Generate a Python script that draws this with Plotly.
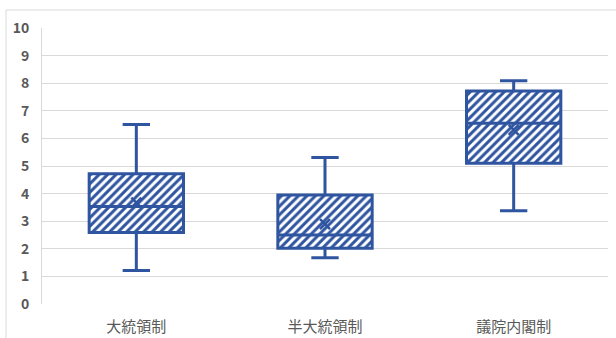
import plotly.graph_objects as go

categories = ["大統領制", "半大統領制", "議院内閣制"]
q1_vals = [2.59, 2.02, 5.10]
median_vals = [3.53, 2.50, 6.55]
q3_vals = [4.72, 3.95, 7.72]
lower_vals = [1.21, 1.68, 3.38]
upper_vals = [6.50, 5.31, 8.09]
mean_vals = [3.67, 2.89, 6.31]
y_ticks = list(range(0, 11))

BLUE = "#2F55A0"
GRID = "#D9D9D9"
TEXT = "#595959"

W, H = 616, 338
L, R, T, B = 42, 8, 28, 34

fig = go.Figure()

# hatched box body
fig.add_trace(go.Bar(
    x=categories,
    y=[q3 - q1 for q1, q3 in zip(q1_vals, q3_vals)],
    base=q1_vals,
    width=0.5,
    marker=dict(
        color="white",
        line=dict(width=0),
        pattern=dict(shape="/", fgcolor=BLUE, bgcolor="white", size=6,
                     solidity=0.5, fgopacity=1),
    ),
    hoverinfo="skip",
    showlegend=False,
))

# box outline, median and whiskers
fig.add_trace(go.Box(
    x=categories,
    q1=q1_vals,
    median=median_vals,
    q3=q3_vals,
    lowerfence=lower_vals,
    upperfence=upper_vals,
    width=0.5,
    whiskerwidth=0.29,
    fillcolor="rgba(0,0,0,0)",
    line=dict(color=BLUE, width=3),
    boxpoints=False,
    showlegend=False,
))

# mean markers
fig.add_trace(go.Scatter(
    x=categories,
    y=mean_vals,
    mode="markers",
    marker=dict(symbol="x-thin", size=10, line=dict(color=BLUE, width=2.5)),
    showlegend=False,
))

px_left = (6 - L) / (W - L - R)
py_top = (H - B - 10) / (H - T - B)
fig.add_shape(type="path", xref="paper", yref="paper",
              path=f"M {px_left},-0.3 L {px_left},{py_top} L 1.1,{py_top}",
              line=dict(color=GRID, width=1))

fig.update_layout(
    width=W, height=H,
    margin=dict(l=L, r=R, t=T, b=B, pad=0, autoexpand=False),
    paper_bgcolor="white",
    plot_bgcolor="white",
    font=dict(family="Noto Sans CJK JP", color=TEXT),
    barmode="overlay",
)
fig.update_xaxes(
    type="category",
    range=[-0.5, 2.5],
    automargin=False,
    showgrid=False,
    showline=False,
    ticks="",
    tickfont=dict(size=15, color=TEXT, family="Noto Sans CJK JP"),
    ticklabelstandoff=12,
)
fig.update_yaxes(
    range=[0, 10],
    tickvals=y_ticks,
    automargin=False,
    showgrid=True,
    gridcolor=GRID,
    gridwidth=1,
    zeroline=False,
    showline=True,
    linecolor=GRID,
    linewidth=1,
    ticks="",
    tickfont=dict(size=14, color=TEXT, family="Noto Sans CJK JP", weight="bold"),
    ticklabelstandoff=9,
)

fig.write_html("out.html")
